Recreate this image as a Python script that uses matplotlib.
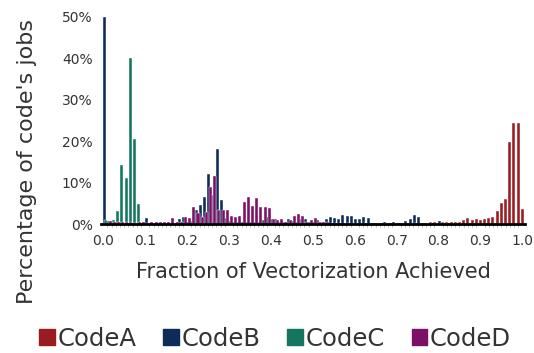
import matplotlib.pyplot as plt
from matplotlib.patches import Patch
import numpy as np

# fraction of vectorization bins, 0.00 .. 1.00
bins = np.round(np.arange(0, 101) / 100, 2)

# percentage of jobs per bin (only non-zero bins listed)
code_a = {0.70: 0.1, 0.72: 0.1, 0.74: 0.2, 0.75: 0.2, 0.76: 0.3, 0.77: 0.3, 0.78: 0.4, 0.79: 0.6,
          0.80: 0.2, 0.81: 0.4, 0.82: 0.5, 0.83: 0.4, 0.84: 0.6, 0.85: 0.6, 0.86: 1.0, 0.87: 1.4,
          0.88: 1.0, 0.89: 1.1, 0.90: 1.0, 0.91: 1.1, 0.92: 1.5, 0.93: 1.8, 0.94: 3.1, 0.95: 5.0,
          0.96: 6.0, 0.97: 19.8, 0.98: 24.4, 0.99: 24.5, 1.00: 3.7}
code_b = {0.00: 50.0, 0.01: 0.8, 0.02: 0.5, 0.03: 0.4, 0.04: 0.3, 0.05: 0.3, 0.06: 0.3, 0.08: 0.2,
          0.10: 1.5, 0.13: 0.3, 0.18: 1.1, 0.19: 1.8, 0.20: 0.5, 0.21: 0.8, 0.22: 3.5, 0.23: 4.5,
          0.24: 6.5, 0.25: 12.0, 0.26: 7.0, 0.27: 18.0, 0.28: 5.8, 0.29: 1.5, 0.30: 0.8, 0.31: 0.5,
          0.32: 0.5, 0.33: 0.5, 0.34: 0.5, 0.35: 0.5, 0.36: 0.5, 0.37: 0.6, 0.38: 1.0, 0.39: 1.6,
          0.40: 1.3, 0.41: 1.1, 0.42: 0.6, 0.43: 0.5, 0.44: 1.3, 0.45: 0.8, 0.46: 0.5, 0.47: 1.1,
          0.48: 1.1, 0.49: 0.5, 0.50: 0.6, 0.51: 1.0, 0.52: 0.5, 0.53: 1.1, 0.54: 1.6, 0.55: 1.4,
          0.56: 1.1, 0.57: 2.1, 0.58: 1.9, 0.59: 2.0, 0.60: 1.1, 0.61: 1.1, 0.62: 1.8, 0.63: 1.5,
          0.64: 0.3, 0.65: 0.3, 0.66: 0.3, 0.67: 0.6, 0.68: 0.3, 0.69: 0.5, 0.70: 0.2, 0.71: 0.3,
          0.72: 0.8, 0.73: 1.1, 0.74: 2.1, 0.75: 1.6, 0.76: 0.3, 0.78: 0.2, 0.80: 0.7, 0.82: 0.2}
code_c = {0.00: 1.0, 0.01: 0.3, 0.02: 0.9, 0.03: 3.2, 0.04: 14.3, 0.05: 11.0, 0.06: 40.0,
          0.07: 20.5, 0.08: 4.8, 0.09: 0.3}
code_d = {0.01: 0.8, 0.02: 0.5, 0.03: 0.4, 0.04: 0.4, 0.05: 0.4, 0.06: 0.4, 0.07: 0.3, 0.08: 0.4,
          0.09: 0.5, 0.10: 0.3, 0.11: 0.4, 0.12: 0.4, 0.13: 0.4, 0.14: 0.4, 0.15: 0.5, 0.16: 1.5,
          0.17: 0.5, 0.18: 0.6, 0.19: 1.8, 0.20: 1.4, 0.21: 4.2, 0.22: 2.6, 0.23: 1.8, 0.24: 3.0,
          0.25: 9.0, 0.26: 11.7, 0.27: 3.5, 0.28: 3.5, 0.29: 3.4, 0.30: 1.9, 0.31: 1.8, 0.32: 1.9,
          0.33: 5.4, 0.34: 6.6, 0.35: 4.4, 0.36: 6.2, 0.37: 4.0, 0.38: 4.2, 0.39: 3.8, 0.40: 1.1,
          0.41: 1.0, 0.42: 1.1, 0.43: 0.6, 0.44: 1.0, 0.45: 1.9, 0.46: 2.4, 0.47: 1.9, 0.48: 0.6,
          0.49: 1.0, 0.50: 1.4, 0.51: 0.6, 0.52: 0.6, 0.53: 0.4, 0.54: 0.3, 0.55: 0.3, 0.56: 0.3,
          0.58: 0.3, 0.60: 0.3, 0.62: 0.3, 0.64: 0.3, 0.66: 0.3, 0.68: 0.3, 0.70: 0.3, 0.72: 0.3,
          0.74: 0.3, 0.76: 0.3, 0.78: 0.3, 0.80: 0.3, 0.82: 0.2, 0.84: 0.2}

names = ["CodeA", "CodeB", "CodeC", "CodeD"]
colors = ["#9a1c20", "#0d2b57", "#14765f", "#7c0f66"]
series = [code_a, code_b, code_c, code_d]
offsets = [0.0, 0.002, 0.0045, 0.006]

plt.rcParams['font.family'] = ['DejaVu Sans']

fig = plt.figure(figsize=(5.34, 3.53), dpi=100)
ax = fig.add_axes([101 / 534, 1 - 224 / 353, 424 / 534, 207 / 353])

for vals, col, off in zip(series, colors, offsets):
    y = np.array([vals.get(b, 0.0) for b in bins])
    ax.bar(bins + off, y, width=0.0072, color=col, edgecolor="white", linewidth=0.3, zorder=2)

ax.set_ylim(0, 50)
ax.set_xlim(-0.0055, 1.0064)
ax.set_yticks(range(0, 51, 10))
ax.set_yticklabels([f"{v}%" for v in range(0, 51, 10)], fontsize=10, color="#333333")
ax.set_xticks(np.arange(0, 1.01, 0.1))
ax.set_xticklabels([f"{v:.1f}" for v in np.arange(0, 1.01, 0.1)], fontsize=10, color="#333333")
ax.set_xticks(bins, minor=True)
ax.tick_params(axis='y', length=0, pad=6)
ax.tick_params(axis='x', which='major', length=0, pad=7)
ax.tick_params(axis='x', which='minor', length=2, width=0.5, color="#999999")

for s in ["top", "right", "left"]:
    ax.spines[s].set_visible(False)
ax.spines["bottom"].set_linewidth(2)
ax.spines["bottom"].set_color("black")
ax.spines["bottom"].set_zorder(3)

ax.set_xlabel("Fraction of Vectorization Achieved", fontsize=15, color="#333333", labelpad=10)
fig.text(27 / 534, 1 - 162 / 353, "Percentage of code's jobs", rotation=90, fontsize=16,
         color="#333333", ha="center", va="center")

handles = [Patch(color=c, label=n) for n, c in zip(names, colors)]
fig.legend(handles=handles, loc="lower center", bbox_to_anchor=(0.515, -0.055), ncol=4,
           frameon=False, fontsize=17.5, handlelength=0.65, handleheight=0.65,
           handletextpad=0.1, columnspacing=1.1, labelcolor="#333333")

fig.savefig("out.png", dpi=100)
